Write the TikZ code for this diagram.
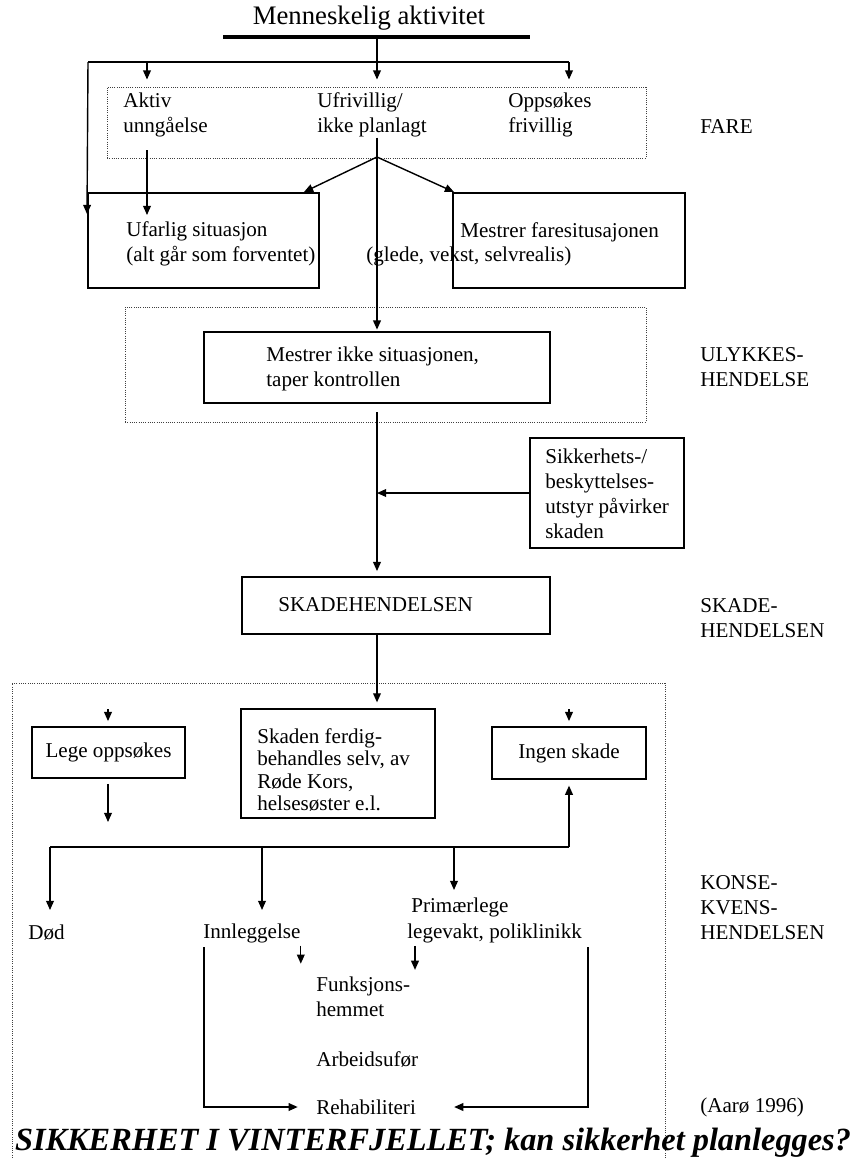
\documentclass[tikz,border=0pt]{standalone}
\usepackage{fontspec}
\setmainfont{Liberation Serif}
\usepackage{tikz}
\usetikzlibrary{arrows.meta,positioning,calc,fit}

\begin{document}
\begin{tikzpicture}[
  x=0.025cm, y=-0.025cm,
  font=\fontsize{15}{17.8}\selectfont,
  myline/.style={line width=1pt},
  myarrow/.style={line width=1pt, -{Triangle[length=6.5pt,width=5.5pt]}},
  mybox/.style={
    draw,
    line width=1.4pt,
    rectangle,
    inner sep=0pt
    },
  mydots/.style={
    draw=black!75,
    densely dotted,
    line width=0.6pt,
    rectangle,
    inner sep=0pt
    },
  mytext/.style={inner sep=0pt, align=left, anchor=west}
]
\useasboundingbox (0,0) rectangle (858,1159);

% overskrift
\node[font=\fontsize{19}{22}\selectfont] (tittel) at (369,18) {Menneskelig aktivitet};
\coordinate (barl) at (223,37);
\coordinate (barr) at (530,37);
\coordinate (bar) at (377,37);
\draw[line width=3.5pt] (barl) -- (barr);

% fare
\node[mydots, fit={(107,87) (646,158)}] (farebox) {};
\node[mytext] (aktiv) at (123,115) {Aktiv\\unngåelse};
\node[mytext] (ufri) at (317,115) {Ufrivillig/\\ikke planlagt};
\node[mytext] (oppsok) at (508,115) {Oppsøkes\\frivillig};
\node[mytext] (fare) at (700,127) {FARE};

\node[mybox, fit={(88,193) (319,288)}] (ufarlig) {};
\node[mytext] (ufarligtxt) at (126,244) {Ufarlig situasjon\\(alt går som forventet)};
\node[mybox, fit={(453,193) (685,288)}] (mestrer) {};
\node[mytext] (mestrertxt) at (460,232) {Mestrer faresitusajonen};
\node[mytext] (gledetxt) at (366,256) {(glede, vekst, selvrealis)};

\coordinate (splitl) at (88,62);
\coordinate (split) at (377,62);
\coordinate (splitr) at (569,62);
\coordinate (pa) at (147,62);
\coordinate (fork) at (377,157);

\draw[myline] (bar) -- (split);
\draw[myline] (splitl) -- (splitr);
\foreach \c in {pa,split,splitr}
  \draw[myarrow, shorten >=5pt] (\c) -- (\c |- farebox.north);
\draw[myarrow] (splitl) -- ($(ufarlig.north west)+(0,22)$);
\draw[myarrow] ($(pa |- farebox.south)+(0,-8)$) -- ($(pa |- ufarlig.north)+(0,23)$);
\draw[myarrow] (fork) -- ($(ufarlig.north east)+(-16,0)$);
\draw[myarrow] (fork) -- ($(mestrer.north west)+(2,0)$);

% ulykke
\node[mydots, fit={(125,307) (646,422)}] (ulykkebox) {};
\node[mybox, fit={(204,332) (550,403)}] (mikke) {};
\node[mytext] (mikketxt) at (266,369) {Mestrer ikke situasjonen,\\taper kontrollen};
\node[mytext] (ulykkelbl) at (700,367) {ULYKKES-\\HENDELSE};
\draw[myarrow, shorten >=1pt] (split |- ufri.south) -- (split |- mikke.north);

\node[mybox, fit={(530,438) (684,548)}] (sikker) {};
\node[mytext] (sikkertxt) at (545,494) {Sikkerhets-/\\beskyttelses-\\utstyr påvirker\\skaden};

% skade
\node[mybox, fit={(242,577) (550,634)}] (skade) {};
\node[mytext] (skadetxt) at (278,605) {SKADEHENDELSEN};
\node[mytext] (skadelbl) at (700,618) {SKADE-\\HENDELSEN};
\draw[myarrow, shorten <=6pt, shorten >=3.5pt] (mikke.south) -- (split |- skade.north);
\draw[myarrow] (sikker.west) -- (split |- sikker.west);

% konsekvens
\node[mydots, fit={(12,683) (665,1180)}] (konsbox) {};
\node[mybox, fit={(32,727) (185,778)}] (lege) {};
\node[inner sep=0pt] (legetxt) at (lege) {Lege oppsøkes};
\node[mybox, fit={(241,709) (435,818)}] (skaden) {};
\node[mytext, font=\fontsize{15}{16}\selectfont] (skadentxt) at (257,770)
  {Skaden ferdig-\\behandles selv, av\\Røde Kors,\\helsesøster e.l.};
\node[mybox, fit={(492,727) (646,779)}] (ingen) {};
\node[inner sep=0pt] (ingentxt) at (ingen) {Ingen skade};
\draw[myarrow, shorten >=4pt] (split |- skade.south) -- (split |- skaden.north);

\coordinate (legestub) at (108,709);
\coordinate (ingenstub) at (569,709);
\coordinate (legeut) at (108,822);
\draw[myarrow, shorten >=3.5pt] (legestub) -- (legestub |- lege.north);
\draw[myarrow, shorten >=3.5pt] (ingenstub) -- (ingenstub |- ingen.north);
\draw[myarrow, shorten <=3.5pt] (legestub |- lege.south) -- (legeut);

\coordinate (konsl) at (50,847);
\coordinate (innlsplit) at (262,847);
\coordinate (primsplit) at (454,847);
\coordinate (konsr) at (569,847);
\draw[line width=1.5pt] (konsl) -- (konsr);
\draw[myarrow, shorten >=4pt] (konsr) -- (ingen.south);
\draw[myarrow] (konsl) -- ++(0,63);
\draw[myarrow] (innlsplit) -- ++(0,63);
\draw[myarrow] (primsplit) -- ++(0,43);

\node[mytext] (dod) at (28,933) {Død};
\node[mytext] (innl) at (203,933) {Innleggelse};
\node[mytext] (prim) at (411,907) {Primærlege};
\node[mytext] (legev) at (407,933) {legevakt, poliklinikk};
\node[mytext] (funk) at (316,997) {Funksjons-\\hemmet};
\node[mytext] (arb) at (316,1059) {Arbeidsufør};
\node[mytext] (rehab) at (316,1107) {Rehabiliteri};
\node[mytext] (konslbl) at (700,908) {KONSE-\\KVENS-\\HENDELSEN};
\node[mytext] (aaro) at (700,1107) {(Aarø 1996)};

\draw[myarrow] ([yshift=-2pt]innl.south east) -- ++(0,18);
\draw[myarrow] ($(legev.south west)+(8,3)$) -- ++(0,24);

\coordinate (bl) at (204,947);
\coordinate (br) at (588,947);
\draw[myarrow, shorten >=13pt] (bl) |- (rehab.west);
\draw[myarrow] (br) |- ($(rehab.east)+(38,0)$);

\node[font=\fontsize{23}{26}\selectfont\bfseries\itshape] (slutt) at (433,1143)
  {SIKKERHET I VINTERFJELLET; kan sikkerhet planlegges?};

\end{tikzpicture}
\end{document}
